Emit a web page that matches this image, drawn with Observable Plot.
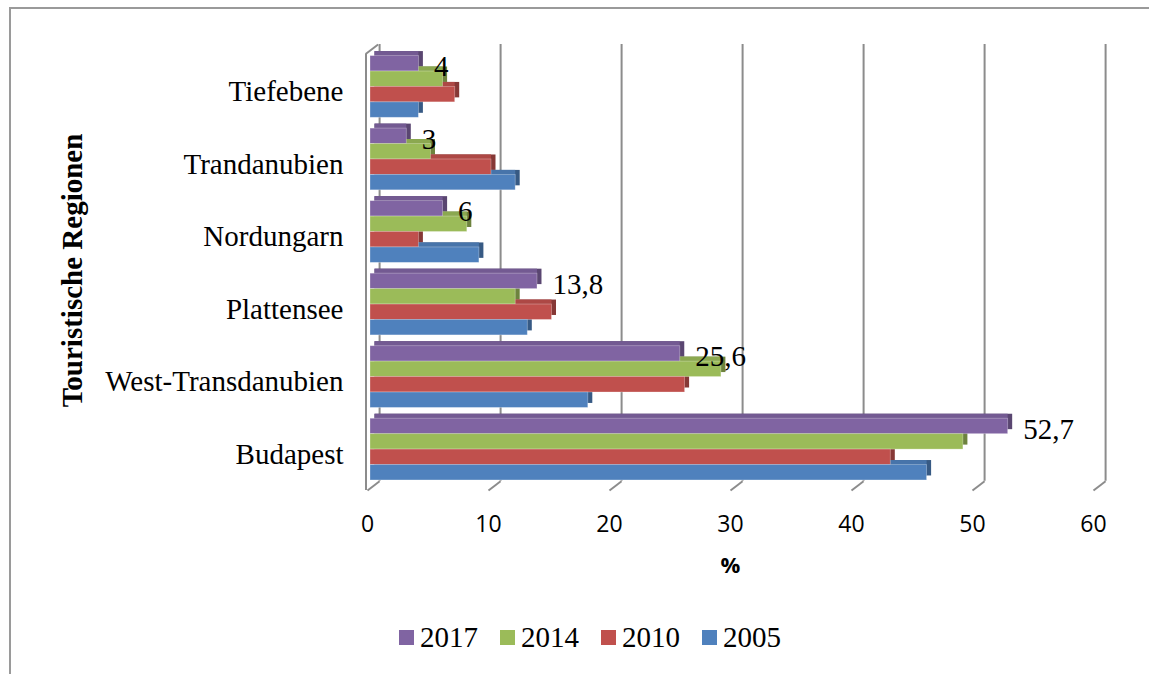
<!DOCTYPE html>
<html>
<head>
<meta charset="utf-8">
<script src="https://cdn.jsdelivr.net/npm/d3@7"></script>
<script src="https://cdn.jsdelivr.net/npm/@observablehq/plot@0.6"></script>
<style>
  html, body { margin: 0; padding: 0; background: white; overflow: hidden; }
  #wrap { position: relative; width: 1149px; height: 674px; }
  #border { position: absolute; left: 9px; top: 7px; right: 0; bottom: 0;
            border-top: 2px solid #9a9a9a; border-left: 2px solid #9a9a9a; pointer-events: none; }
  #legend { display: flex; align-items: center; height: 74px; padding-left: 399px;
            font-family: "Liberation Serif", "Times New Roman", serif; font-size: 29px; color: #000; }
  .item { display: flex; align-items: center; margin-right: 22px; }
  .sw { width: 15px; height: 15px; margin-right: 6px; }
</style>
</head>
<body>
<div id="wrap">
  <div id="chart"></div>
  <div id="legend"></div>
  <div id="border"></div>
</div>
<script>
// ---- data ----
const regions = ["Tiefebene", "Trandanubien", "Nordungarn", "Plattensee", "West-Transdanubien", "Budapest"];
const years = ["2017", "2014", "2010", "2005"];
const v2017 = [4, 3, 6, 13.8, 25.6, 52.7];
const v2014 = [6, 5, 8, 12, 29, 49];
const v2010 = [7, 10, 4, 15, 26, 43];
const v2005 = [4, 12, 9, 13, 18, 46];
const colors = ["#8064A2", "#9BBB59", "#C0504D", "#4F81BD"];
const xTicks = [0, 10, 20, 30, 40, 50, 60];

const series = [v2017, v2014, v2010, v2005];

// ---- layout constants (3D look) ----
const BASE = 0.65, PITCH = 4.7, YTOP = 28.9;   // y units: one bar = 1
const DX = 1, DY = 0.6;                           // wall depth in data units
const D = 4.5;                                    // bar depth in px
const nR = regions.length;

const rows = years.flatMap((yr, k) => regions.map((reg, i) => ({
  region: reg, year: yr, value: series[k][i], color: colors[k],
  y1: BASE + (nR - 1 - i) * PITCH + (years.length - 1 - k),
})));
rows.forEach(d => { d.y2 = d.y1 + 1; d.top = d3.color(d.color).darker(0.3).formatHex(); d.side = d3.color(d.color).darker(1).formatHex(); });
const labelRows = rows.filter(d => d.year === "2017");
const regionRows = regions.map((reg, i) => ({region: reg, yc: BASE + (nR - 1 - i) * PITCH + 2}));

const grid = "#8c8c8c";
const serif = "Liberation Serif";

const chart = Plot.plot({
  width: 1149,
  height: 600,
  marginLeft: 367,
  marginRight: 56,
  marginTop: 44,
  marginBottom: 110,
  style: {fontFamily: "Open Sans", fontSize: "23px", color: "#000", background: "transparent"},
  x: {domain: [0, 60], ticks: xTicks, tickSize: 0, tickPadding: 25, label: null},
  y: {domain: [0, YTOP], axis: null},
  color: {type: "identity"},
  marks: [
    // back-wall gridlines
    Plot.ruleX(xTicks, {x: d => d + DX, y1: DY, y2: YTOP, stroke: grid, strokeWidth: 2}),
    // floor diagonals
    Plot.link(xTicks, {x1: d => d, y1: 0, x2: d => d + DX, y2: DY, stroke: grid, strokeWidth: 2}),
    // left wall front edge and top diagonal
    Plot.ruleX([0], {y1: 0, y2: YTOP - DY, dx: -1.5, stroke: grid, strokeWidth: 2}),
    Plot.link([0], {x1: d => d, y1: YTOP - DY, x2: d => d + DX, y2: YTOP, dx: -1.5, stroke: grid, strokeWidth: 2}),
    // bar depth: side faces
    Plot.rect(rows, {x1: 0, x2: "value", y1: "y1", y2: "y2", fill: "side", dx: 3 + D, dy: -D}),
    // bar depth: top faces
    Plot.rect(rows, {x1: 0, x2: "value", y1: "y1", y2: "y2", fill: "top", dx: 3 + D, dy: -D, insetRight: D}),
    // bar front faces
    Plot.rect(rows, {x1: 0, x2: "value", y1: "y1", y2: "y2", fill: "color", dx: 3,
      stroke: "white", strokeOpacity: 0.35, strokeWidth: 0.8}),
    // data labels (2017)
    Plot.text(labelRows, {x: "value", y: d => (d.y1 + d.y2) / 2, text: d => String(d.value).replace(".", ","),
      textAnchor: "start", dx: 18, dy: 3, fontSize: 29, fontFamily: serif, fill: "#000"}),
    // region labels
    Plot.text(regionRows, {y: "yc", text: "region", frameAnchor: "left", textAnchor: "end", lineAnchor: "middle",
      dx: -24, dy: 5, fontSize: 29, fontFamily: serif, fill: "#000"}),
    // y title
    Plot.text(["Touristische Regionen"], {text: d => d, frameAnchor: "left", textAnchor: "middle", lineAnchor: "middle",
      rotate: -90, dx: -295, dy: 3, fontSize: 29, fontWeight: "bold", fontFamily: serif, fill: "#000"}),
    // x title
    Plot.text(["%"], {text: d => d, frameAnchor: "bottom", textAnchor: "middle", lineAnchor: "middle", dy: 75,
      fontSize: 22, fontWeight: "bold", fontFamily: "Open Sans", fill: "#000"})
  ]
});
document.getElementById("chart").appendChild(chart);

// ---- legend ----
const legend = document.getElementById("legend");
years.forEach((yr, k) => {
  const it = document.createElement("div");
  it.className = "item";
  const sw = document.createElement("div");
  sw.className = "sw";
  sw.style.background = colors[k];
  const tx = document.createElement("span");
  tx.textContent = yr;
  it.appendChild(sw); it.appendChild(tx);
  legend.appendChild(it);
});
</script>
</body>
</html>
